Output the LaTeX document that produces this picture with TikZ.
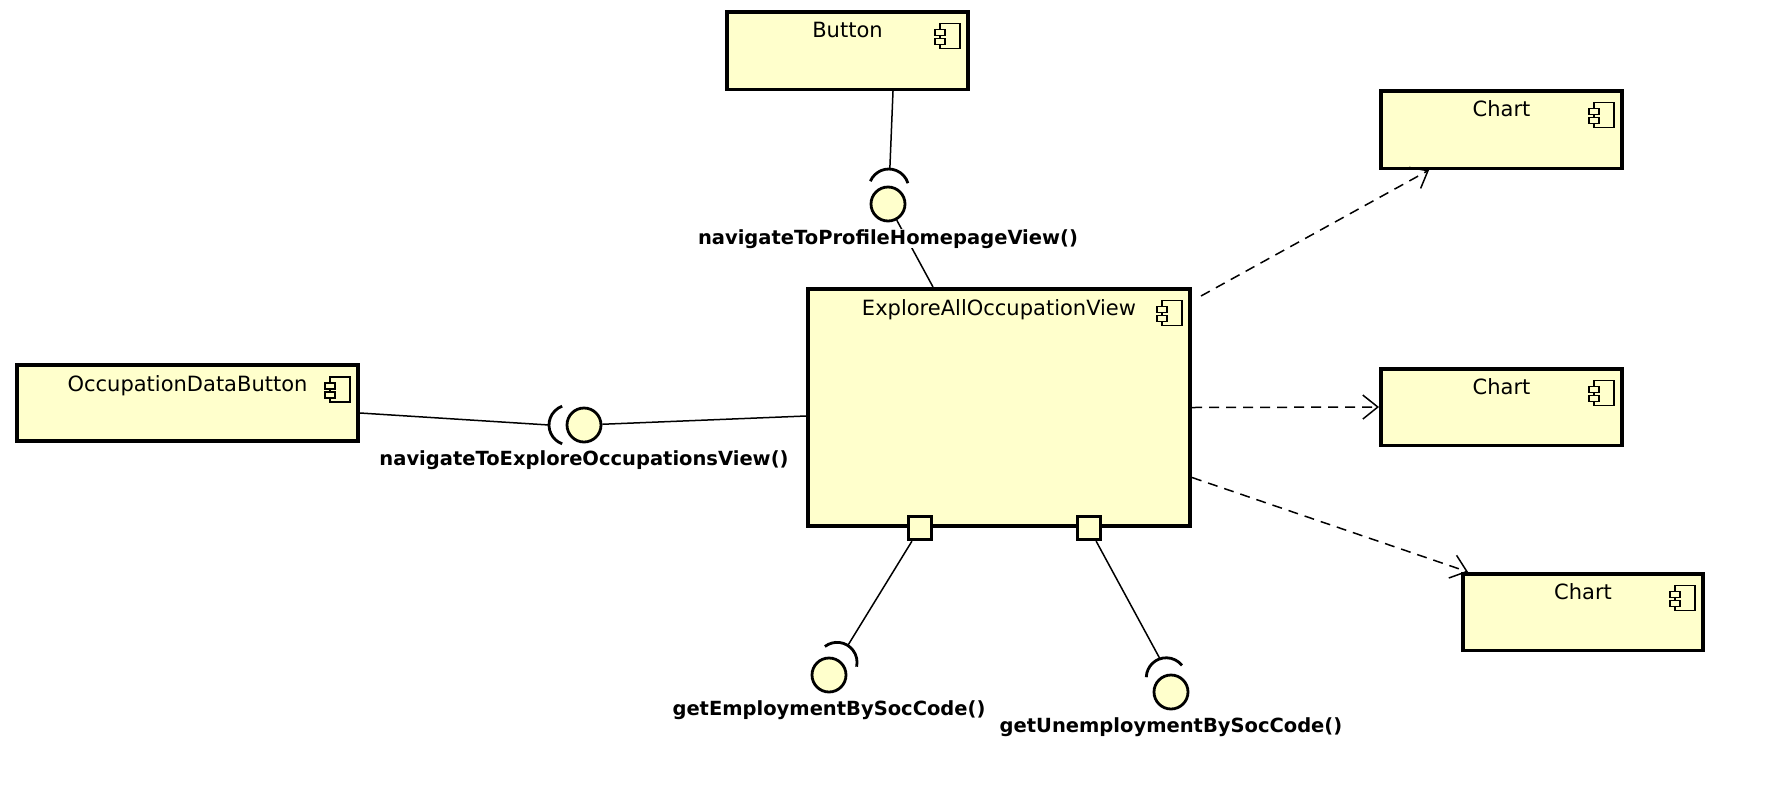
\documentclass[tikz,border=0pt]{standalone}
\usepackage{fontspec}
\setmainfont{DejaVu Sans}
\usetikzlibrary{calc,arrows.meta}
\definecolor{compfill}{HTML}{FFFFCC}

\tikzset{
  comp/.style={draw, line width=3.6pt, fill=compfill, inner sep=0pt},
  comptitle/.style={anchor=base, inner sep=0pt, font=\fontsize{21}{24}\selectfont},
  ball/.style={circle, draw, line width=2.8pt, fill=compfill, minimum size=34pt, inner sep=0pt},
  socket/.style={line width=2.8pt},
  portbox/.style={rectangle, draw, line width=2.8pt, fill=compfill, minimum size=23.5pt, inner sep=0pt},
  iflabel/.style={anchor=base, inner sep=0pt, font=\bfseries\fontsize{19.5}{23}\selectfont},
  conn/.style={line width=1.5pt},
  dep/.style={line width=1.5pt, dash pattern=on 10pt off 7pt,
              -{Straight Barb[length=15pt,width=24pt,line width=1.5pt]}},
  compicon/.pic={
    \draw[line width=1.8pt] (-30,13.5) rectangle (-10,38.5);
    \draw[line width=1.8pt, fill=compfill] (-35,19.5) rectangle (-25,25.5);
    \draw[line width=1.8pt, fill=compfill] (-35,28.5) rectangle (-25,34.5);
  }
}

\begin{document}
\begin{tikzpicture}[x=1pt,y=-1pt]
\useasboundingbox (0,0) rectangle (1788,788);

% components
\node[comp, minimum width=241.4pt, minimum height=77.6pt] (button) at (847.5,50.5) {};
\node[comp, minimum width=241.4pt, minimum height=77.6pt] (chartA) at (1501.5,129.5) {};
\node[comp, minimum width=241.4pt, minimum height=76.6pt] (chartB) at (1501.5,407) {};
\node[comp, minimum width=240.4pt, minimum height=76.6pt] (chartC) at (1583,612) {};
\node[comp, minimum width=341.4pt, minimum height=75.6pt] (odb) at (187.5,403) {};
\node[comp, minimum width=382.4pt, minimum height=237.4pt] (explore) at (999,407.5) {};

% titles
\node[comptitle] (tButton) at ($(button.north)+(0,28)$) {Button};
\node[comptitle] (tChartA) at ($(chartA.north)+(0,28)$) {Chart};
\node[comptitle] (tChartB) at ($(chartB.north)+(0,28)$) {Chart};
\node[comptitle] (tChartC) at ($(chartC.north)+(0,28)$) {Chart};
\node[comptitle] (tOdb) at ($(odb.north)+(0,28)$) {OccupationDataButton};
\node[comptitle] (tExplore) at ($(explore.north)+(0,28)$) {ExploreAllOccupationView};

% component icons
\foreach \b in {button,chartA,chartB,chartC,odb,explore}
  \pic at (\b.north east) {compicon};

% ports on the bottom of the view
\node[portbox] (p1) at ([xshift=-79pt]explore.south) {};
\node[portbox] (p2) at ([xshift=90pt]explore.south) {};

% interface balls
\node[ball] (b1) at (888,204) {};
\node[ball] (b2) at (584,425) {};
\node[ball] (b3) at (829,675) {};
\node[ball] (b4) at (1171,692) {};

% socket tips
\coordinate (s1) at ($(b1)+(-87:35)$);
\coordinate (s2) at ($(b2)+(180:35)$);
\coordinate (s3) at ($(b3)+(-57.5:35)$);
\coordinate (s4) at ($(b4)+(-108.4:35)$);

% sockets
\draw[socket] ([shift={(-87:15)}]b1.center) ++(-157:20) arc[start angle=-157, end angle=-17, radius=20];
\draw[socket] ([shift={(180:15)}]b2.center) ++(110:20) arc[start angle=110, end angle=250, radius=20];
\draw[socket] ([shift={(-57.5:15)}]b3.center) ++(-127.5:20) arc[start angle=-127.5, end angle=12.5, radius=20];
\draw[socket] ([shift={(-108.4:15)}]b4.center) ++(-178.4:20) arc[start angle=-178.4, end angle=-38.4, radius=20];

% assembly connectors
\draw[conn] ([xshift=45.5pt]button.south) -- (s1);
\draw[conn] (b1) -- ([xshift=-66pt]explore.north);
\draw[conn] ([yshift=-10pt]odb.east) -- (s2);
\draw[conn] (b2) -- ([yshift=-8.5pt]explore.west);
\draw[conn] (p1) -- (s3);
\draw[conn] (p2) -- (s4);

% interface names
\node[iflabel, fill=white] (l1) at ($(b1)+(0,40)$) {navigateToProfileHomepageView()};
\node[iflabel] (l2) at ($(b2)+(0,40)$) {navigateToExploreOccupationsView()};
\node[iflabel] (l3) at ($(b3)+(0,40)$) {getEmploymentBySocCode()};
\node[iflabel] (l4) at ($(b4)+(0,40)$) {getUnemploymentBySocCode()};

% dependencies to the charts
\draw[dep] ([shift={(9,9)}]explore.north east) -- ([xshift=-72.5pt]chartA.south);
\draw[dep] (explore.east) -- (chartB.west);
\draw[dep] ([yshift=-70pt]explore.east) -- ([xshift=7pt]chartC.north west);
\end{tikzpicture}
\end{document}
